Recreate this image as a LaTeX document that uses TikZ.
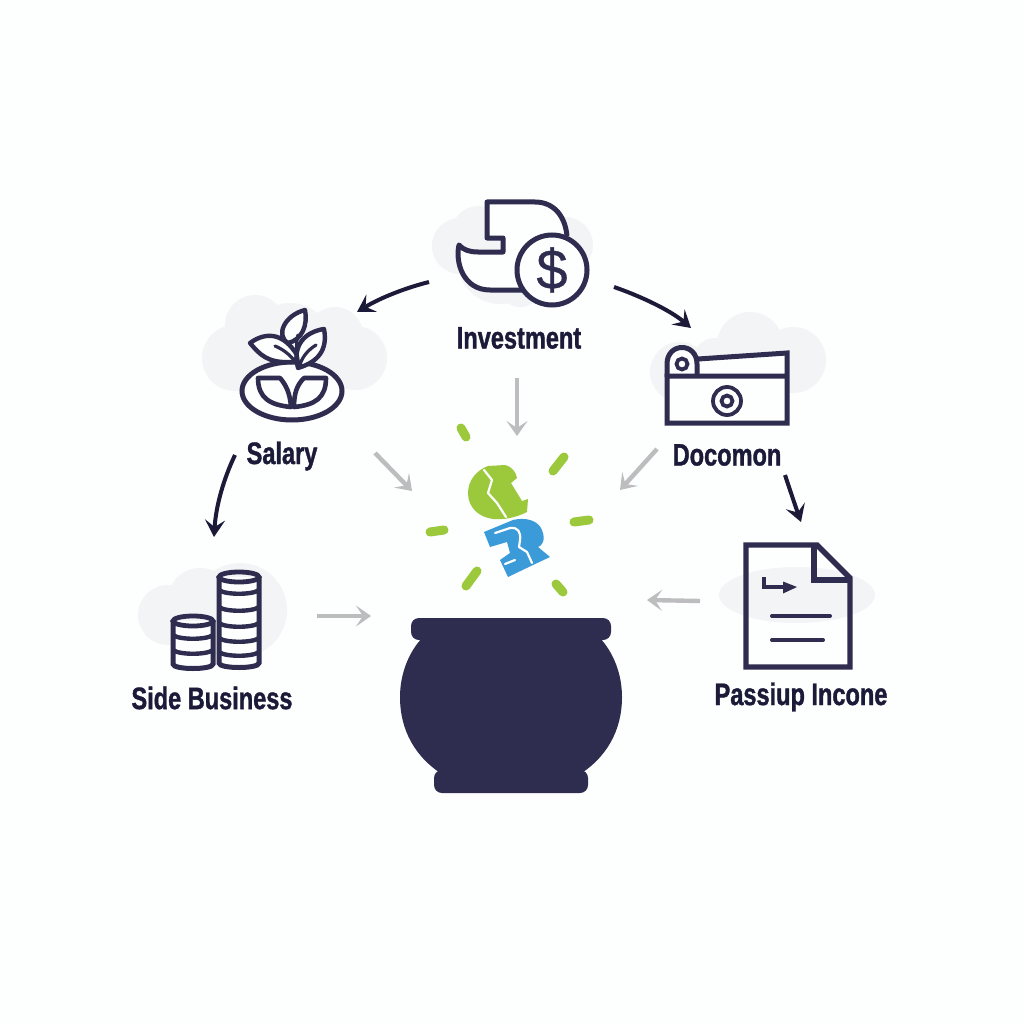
\documentclass[tikz,border=0pt]{standalone}
\usepackage{fontspec}
\usetikzlibrary{arrows.meta}
\newfontfamily\lab[FakeStretch=0.76,FakeBold=1.2]{Liberation Sans}
\newfontfamily\dollarfont[FakeBold=0.6]{Liberation Sans}
\definecolor{ink}{HTML}{2E2C4F}
\definecolor{labelink}{HTML}{1B1A38}
\definecolor{cloudc}{HTML}{F3F4F6}
\definecolor{paper}{HTML}{FDFEFE}
\definecolor{leafg}{HTML}{9CC93B}
\definecolor{skyb}{HTML}{3B9BD8}
\definecolor{greya}{HTML}{BDBDBF}
\tikzset{
  x=1pt,y=-1pt,
  icon/.style={draw=ink,line width=5pt,line join=miter,fill=none},
  thin icon/.style={draw=ink,line width=3.2pt,line cap=round,line join=round,fill=none},
  cloudpart/.style={fill=cloudc,draw=none},
  lbl/.style={text=labelink,font=\lab\fontsize{31}{31}\selectfont\bfseries,inner sep=0pt},
  darrow/.style={draw=labelink,line width=4pt,-{Stealth[length=17pt,width=20pt,inset=7pt]}},
  garrow/.style={draw=greya,line width=4.4pt,-{Stealth[length=15pt,width=21pt,inset=7pt]}},
  spark/.style={draw=leafg,line width=9pt,line cap=round},
  crack/.style={draw=paper,line width=2.2pt,line join=round,line cap=round},
}
\begin{document}
\begin{tikzpicture}
\useasboundingbox (0,0) rectangle (1024,1024);
\fill[paper] (0,0) rectangle (1024,1024);

% clouds
\foreach \cx/\cy/\r in {460/246/28,478/232/26,500/262/42,540/250/36,565/245/28,520/285/22}
  \fill[cloudpart] (\cx,\cy) circle (\r);
\foreach \cx/\cy/\r in {235/358/33,255/325/30,290/345/42,335/335/28,355/358/32,320/370/26}
  \fill[cloudpart] (\cx,\cy) circle (\r);
\foreach \cx/\cy/\r in {680/372/30,715/360/22,750/345/33,793/360/33,740/375/25}
  \fill[cloudpart] (\cx,\cy) circle (\r);
\fill[cloudpart] (797,595) ellipse (78 and 28);
\foreach \cx/\cy/\r in {168/615/30,200/600/32,240/610/47,215/625/30}
  \fill[cloudpart] (\cx,\cy) circle (\r);

% Investment icon
\draw[icon,line join=round,fill=paper] (567,236) .. controls (565,215) and (553,202) .. (535,202)
  -- (487,202) -- (487,238) -- (503,238) -- (503,252) -- (478,252)
  .. controls (470,252) and (463,250) .. (459,245)
  .. controls (455,262) and (463,290) .. (490,290) -- (522,290);
\draw[icon,fill=paper] (552,270) circle (35);
\node[inner sep=0pt,text=ink,font=\dollarfont\fontsize{56}{56}\selectfont] (dollar) at (552,270) {\$};

% Salary icon
\draw[icon,fill=paper] (292,391) ellipse (50 and 29);
\draw[icon,line width=4.6pt,line join=round] (258,378) -- (280,378) .. controls (286,385) and (290,393) .. (291,407)
  .. controls (270,405) and (258,398) .. (258,378) -- cycle;
\draw[icon,line width=4.6pt,line join=round] (326,378) -- (304,378) .. controls (297,385) and (294,393) .. (294,407)
  .. controls (315,405) and (326,398) .. (326,378) -- cycle;
\draw[icon,line width=4.4pt,fill=paper,line join=round] (305,310) .. controls (285,315) and (275,335) .. (288,343)
  .. controls (302,340) and (308,325) .. (305,310) -- cycle;
\draw[icon,line width=4.4pt,fill=paper,line join=round] (250,343) .. controls (268,330) and (285,335) .. (297,355)
  .. controls (297,362) and (293,362) .. (290,362)
  .. controls (268,363) and (260,355) .. (250,343) -- cycle;
\draw[icon,line width=4.4pt,fill=paper,line join=round] (324,329) .. controls (305,332) and (292,345) .. (298,368)
  .. controls (318,362) and (328,350) .. (324,329) -- cycle;
\draw[thin icon] (275,346) .. controls (285,350) and (292,357) .. (297,364);
\draw[thin icon] (298,335) .. controls (296,342) and (296,350) .. (299,365);
\draw[thin icon] (316,345) .. controls (308,350) and (302,357) .. (300,365);

% Docomon icon
\fill[paper] (698,359) -- (787,353) -- (787,423) -- (667,423) -- (667,376) -- (698,376) -- cycle;
\draw[icon,line join=round,fill=paper] (667,377) -- (667,364) .. controls (667,342) and (697,342) .. (697,364) -- (697,377);
\draw[icon] (698,359) -- (787,353) -- (787,423) -- (667,423) -- (667,376) -- (787,376);
\draw[icon,line width=3.8pt] (682,364) circle (5.5);
\draw[icon,line width=3.8pt] (727,401) circle (14);
\draw[icon,line width=3.8pt] (727,401) circle (5.5);

% Passive income icon
\draw[icon,line width=5.4pt] (746,545) -- (817,545) -- (850,578) -- (850,667) -- (746,667) -- cycle;
\draw[icon,line width=5.4pt] (814,545) -- (814,580) -- (850,580);
\draw[icon,line width=3.8pt] (764,577) -- (764,587) -- (785,587);
\fill[ink] (783,581.5) -- (797,587) -- (783,593.5) -- cycle;
\draw[icon,line width=4pt,line cap=round] (772,616) -- (830,616);
\draw[icon,line width=4pt,line cap=round] (772,640) -- (823,640);

% Side business coins
\foreach \px/\py/\hw/\bb in {239/577/20/663,193/621/20/664}{
  \draw[icon,fill=paper] (\px-\hw,\py) -- (\px-\hw,\bb) .. controls (\px-\hw,\bb+6) and (\px+\hw,\bb+6) .. (\px+\hw,\bb) -- (\px+\hw,\py);
  \draw[icon,line width=4.8pt] (\px,\py) ellipse [x radius=\hw, y radius=5];
}
\foreach \by in {590,607,623,638,652}
  \draw[icon,line width=4.4pt] (219,\by) .. controls (225,\by+5) and (253,\by+5) .. (259,\by);
\foreach \by in {635,650}
  \draw[icon,line width=4.4pt] (173,\by) .. controls (179,\by+5) and (207,\by+5) .. (213,\by);

% Sparks
\draw[spark] (461,428) -- (466,437);
\draw[spark] (564,457) -- (553,471);
\draw[spark] (574,522) -- (589,520);
\draw[spark] (430,532) -- (444,530);
\draw[spark] (477,571) -- (466,586);
\draw[spark] (556,584) -- (563,592);

% Green glyph
\fill[leafg] (488,466) -- (505,465) .. controls (513,467) and (516,473) .. (517,478)
  -- (511,483) -- (522,501) -- (528,499) -- (527,512)
  .. controls (515,518) and (503,520) .. (493,519)
  .. controls (478,517) and (468,507) .. (468,493)
  .. controls (468,480) and (477,470) .. (488,466) -- cycle;
\draw[crack] (484,470) -- (492,480) -- (488,493) -- (497,503) -- (506,517);
% Blue glyph
\fill[skyb] (484,532) -- (513,520) .. controls (525,517) and (538,520) .. (542,530)
  .. controls (546,540) and (542,546) .. (538,547) -- (550,557) -- (533,565) -- (508,577)
  -- (500,560) -- (510,553) -- (507,542) -- (490,547) -- cycle;
\draw[crack] (495,533) -- (510,528) .. controls (518,527) and (521,532) .. (520,540)
  -- (519,547) -- (527,552) -- (532,563);
\draw[crack] (505,564) -- (515,560);

% Pot
\fill[ink] (424,636) .. controls (408,652) and (400,675) .. (400,697)
  .. controls (400,730) and (415,758) .. (445,776) -- (577,776)
  .. controls (607,758) and (622,730) .. (622,697)
  .. controls (622,675) and (614,652) .. (598,636) -- cycle;
\fill[ink,rounded corners=8pt] (411,618) rectangle (611,640);
\fill[ink,rounded corners=8pt] (434,770) rectangle (588,793);

% Labels
\node[lbl] (investment) at (519,338) {Investment};
\node[lbl] (salary) at (282,456) {Salary};
\node[lbl] (docomon) at (727,455) {Docomon};
\node[lbl] (side) at (212,698) {Side Business};
\node[lbl] (passive) at (801,697) {Passiup Incone};

% Connector ends
\coordinate (a1) at (429,282); \coordinate (a2) at (357,312);
\coordinate (b1) at (614,287); \coordinate (b2) at (691,328);
\coordinate (c1) at (235,455); \coordinate (c2) at (214,537);
\coordinate (d1) at (785,475); \coordinate (d2) at (801,522);
\coordinate (e1) at (517,378); \coordinate (e2) at (517,436);
\coordinate (f1) at (375,453); \coordinate (f2) at (412,491);
\coordinate (g1) at (657,449); \coordinate (g2) at (620,490);
\coordinate (h1) at (317,616); \coordinate (h2) at (371,616);
\coordinate (i1) at (700,601); \coordinate (i2) at (647,600);

\draw[darrow] (a1) .. controls (405,288) and (380,298) .. (a2);
\draw[darrow] (b1) .. controls (640,296) and (670,310) .. (b2);
\draw[darrow] (c1) .. controls (224,478) and (216,505) .. (c2);
\draw[darrow] (d1) .. controls (790,490) and (795,505) .. (d2);
\draw[garrow] (e1) -- (e2);
\draw[garrow] (f1) -- (f2);
\draw[garrow] (g1) -- (g2);
\draw[garrow] (h1) -- (h2);
\draw[garrow] (i1) -- (i2);
\end{tikzpicture}
\end{document}
